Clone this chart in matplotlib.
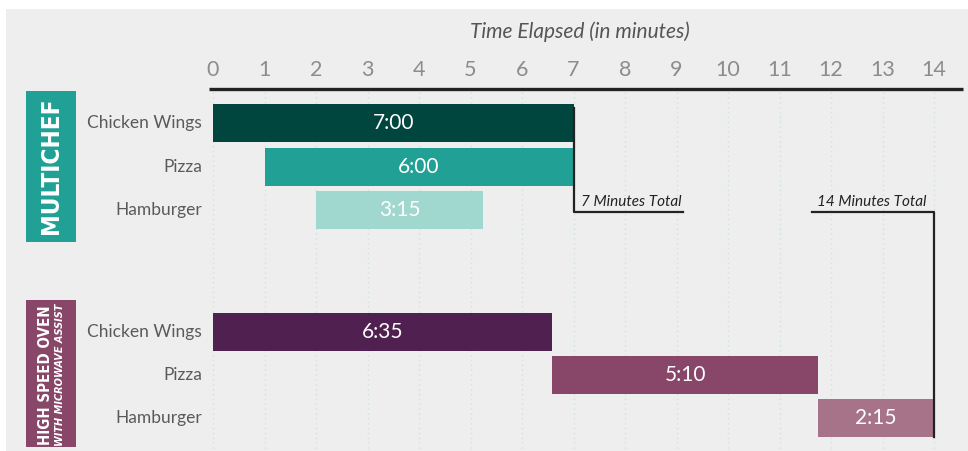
import matplotlib.pyplot as plt
from matplotlib.patches import Rectangle

# data
categories = ['Chicken Wings', 'Pizza', 'Hamburger']
multichef_start = [0, 1, 2]
multichef_time = ['7:00', '6:00', '3:15']
oven_start = [0, 6.583, 11.75]
oven_time = ['6:35', '5:10', '2:15']
multichef_total = 7
oven_total = 14
ticks = list(range(0, 15))

multichef_colors = ['#00463f', '#21a195', '#a0d8cf']
oven_colors = ['#4f2050', '#884769', '#a77389']

LIGHT = ['Lato', 'DejaVu Sans']


def to_minutes(s):
    m, sec = s.split(':')
    return int(m) + int(sec) / 60.0


W, H = 968, 451
X0, PPM = 213, 51.5   # pixel of minute 0, pixels per minute


def px(x):
    return (x - X0) / PPM


fig = plt.figure(figsize=(W / 100, H / 100), dpi=100)
fig.patch.set_facecolor('white')
ax = fig.add_axes([0, 0, 1, 1])
ax.set_xlim(px(0), px(W))
ax.set_ylim(H, 0)
ax.axis('off')

# panel background
ax.add_patch(Rectangle((6 / W, 0), 1, 1 - 9 / H, transform=ax.transAxes,
                       facecolor='#eeeeee', edgecolor='none', zorder=0))

# dotted grid
for t in ticks:
    ax.plot([t, t], [92, H], color='#cfe3de', lw=1, ls=(0, (1, 2.5)), zorder=1)

# top axis line + tick labels
ax.plot([px(209), px(963)], [89, 89], color='#222222', lw=2.4,
        solid_capstyle='butt', zorder=3)
for t in ticks:
    ax.text(t, 70, str(t), ha='center', va='center', fontsize=15.5,
            color='#8c8c8c', family=LIGHT)
ax.text(7.13, 32, 'Time Elapsed (in minutes)', ha='center', va='center',
        fontsize=15, style='italic', color='#555555', family=LIGHT)

rows_mc = [123, 167, 210]
rows_ov = [332, 375, 418]
bh = 38

for rows, starts, times, cols in [(rows_mc, multichef_start, multichef_time, multichef_colors),
                                  (rows_ov, oven_start, oven_time, oven_colors)]:
    durs = [to_minutes(s) for s in times]
    ax.barh(rows, durs, left=starts, height=bh, color=cols, zorder=2)
    for y, s, d, lab, cat in zip(rows, starts, durs, times, categories):
        ax.text(s + d / 2, y, lab, ha='center', va='center', fontsize=15,
                color='white', family=LIGHT, zorder=4)
        ax.text(px(202), y, cat, ha='right', va='center', fontsize=12.5,
                color='#5a5a5a', family=LIGHT)

# total callouts
ax.plot([multichef_total, multichef_total, px(683)], [108, 212, 212],
        color='#222222', lw=1.6, zorder=3)
ax.text(px(581), 209, '7 Minutes Total', ha='left', va='bottom', fontsize=11,
        style='italic', color='#222222', family=LIGHT)
ax.plot([px(812), oven_total, oven_total], [212, 212, 437],
        color='#222222', lw=1.6, zorder=3)
ax.text(px(817), 209, '14 Minutes Total', ha='left', va='bottom', fontsize=11,
        style='italic', color='#222222', family=LIGHT)

# side group labels
ax.add_patch(Rectangle((px(26), 91), px(76) - px(26), 151,
                       facecolor='#21a195', edgecolor='none', zorder=2))
ax.text(px(51), 166, 'MULTICHEF', rotation=90, ha='center', va='center',
        fontsize=17.5, weight='bold', color='white', family='DejaVu Sans',
        stretch='condensed')
ax.add_patch(Rectangle((px(26), 300), px(76) - px(26), 147,
                       facecolor='#884769', edgecolor='none', zorder=2))
ax.text(px(45), 375, 'HIGH SPEED OVEN', rotation=90, ha='center', va='center',
        fontsize=10.8, weight='bold', color='white', family='DejaVu Sans',
        stretch='condensed')
ax.text(px(59.5), 375, 'WITH MICROWAVE ASSIST', rotation=90, ha='center', va='center',
        fontsize=7.8, weight='bold', style='italic', color='white',
        family='DejaVu Sans', stretch='condensed')

fig.savefig('out.png', dpi=100, facecolor=fig.get_facecolor())
